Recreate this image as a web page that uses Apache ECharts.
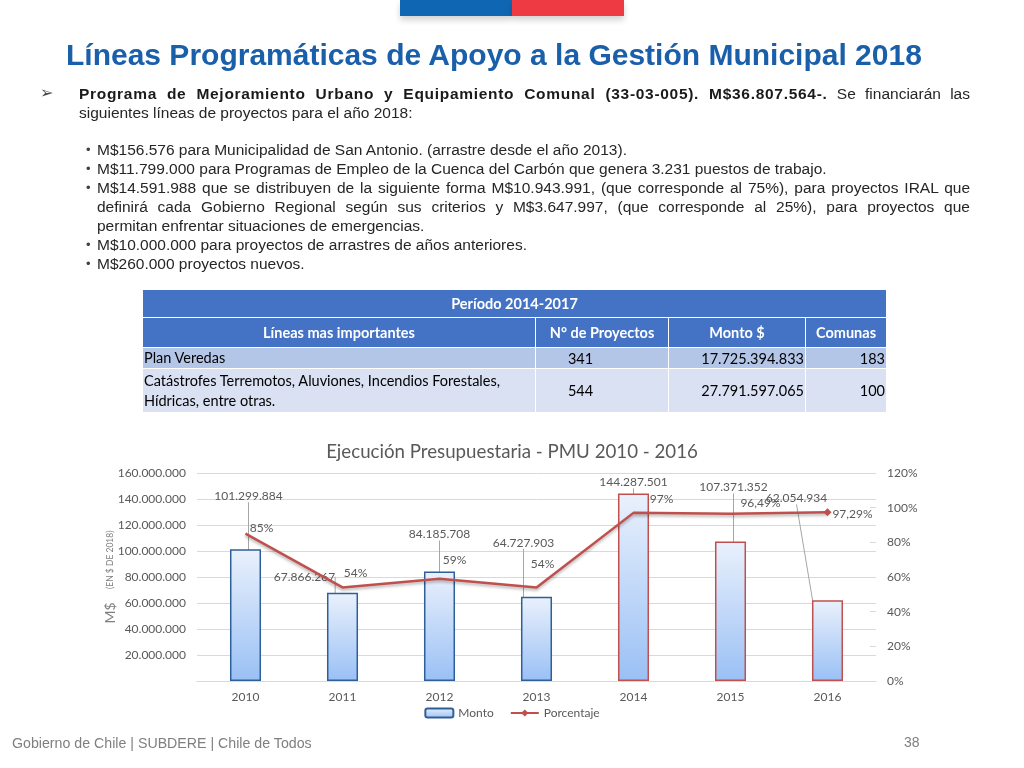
<!DOCTYPE html>
<html><head><meta charset="utf-8">
<script src="https://cdn.jsdelivr.net/npm/echarts@6/dist/echarts.min.js"></script>
<style>
html,body{margin:0;padding:0;width:1024px;height:768px;background:#fff;overflow:hidden;}
#chart{position:absolute;left:0;top:0;width:1024px;height:768px;}
.flag{position:absolute;top:0;height:16px;box-shadow:0 4px 6px rgba(0,0,0,0.18);}
#title{position:absolute;left:66px;top:36px;font-family:"Liberation Sans",Arial,sans-serif;font-weight:bold;font-size:30px;line-height:38px;color:#1A5FAA;white-space:nowrap;}
#arrow{position:absolute;left:40px;top:83px;font-family:"DejaVu Sans";font-size:16px;color:#444;}
.txt{position:absolute;font-family:"Liberation Sans",Arial,sans-serif;font-size:15.5px;line-height:19px;color:#262626;}
.txt div{white-space:nowrap;}
.txt div.j{text-align:justify;text-align-last:justify;white-space:normal;}
#para{left:79px;top:84px;width:891px;}
#para b{color:#1a1a1a;letter-spacing:0.7px;}
#list{left:97px;top:140px;width:873px;}
.li{position:relative;}
.li:before{content:"•";position:absolute;left:-11px;top:0;font-size:13px;color:#404040;}
#tbl{position:absolute;left:142px;top:289px;width:744px;table-layout:fixed;border-collapse:collapse;font-family:Lato,"Open Sans",sans-serif;font-size:14.5px;color:#000;}
#tbl td,#tbl th{border:1px solid #fff;padding:0 1px;overflow:visible;white-space:nowrap;}
#tbl th{background:#4472C4;color:#fff;font-weight:bold;}
#footer{position:absolute;left:12px;top:735px;font-family:"Liberation Sans",Arial,sans-serif;font-size:14.2px;color:#7f7f7f;}
#page{position:absolute;left:904px;top:734px;font-family:"Liberation Sans",Arial,sans-serif;font-size:14px;color:#7f7f7f;}
</style></head><body>
<div id="chart"></div>
<div class="flag" style="left:400px;width:112px;background:#0F67B3;"></div>
<div class="flag" style="left:512px;width:112px;background:#EE3B43;"></div>
<div id="title"></div>
<div id="arrow">➢</div>
<div id="para" class="txt"></div>
<div id="list" class="txt"></div>
<table id="tbl"></table>
<div id="footer"></div>
<div id="page"></div>
<script>
// ---- data ----
const years = ['2010','2011','2012','2013','2014','2015','2016'];
const montos = [101299884, 67866267, 84185708, 64727903, 144287501, 107371352, 62054934];
const porcentajes = [85, 54, 59, 54, 97, 96.49, 97.29];
const leftTickValues = [0, 20000000, 40000000, 60000000, 80000000, 100000000, 120000000, 140000000, 160000000];
const rightTickValues = [0, 20, 40, 60, 80, 100, 120];

const slideTitle = 'Líneas Programáticas de Apoyo a la Gestión Municipal 2018';
// paragraph lines as laid out on the slide
const paraLines = [
  '<b>Programa de Mejoramiento Urbano y Equipamiento Comunal (33-03-005). M$36.807.564-.</b> Se financiarán las',
  'siguientes líneas de proyectos para el año 2018:'
];
const bullets = [
  ['M$156.576 para Municipalidad de San Antonio. (arrastre desde el año 2013).'],
  ['M$11.799.000 para Programas de Empleo de la Cuenca del Carbón que genera 3.231 puestos de trabajo.'],
  ['M$14.591.988 que se distribuyen de la siguiente forma M$10.943.991, (que corresponde al 75%), para proyectos IRAL que',
   'definirá cada Gobierno Regional según sus criterios y M$3.647.997, (que corresponde al 25%), para proyectos que',
   'permitan enfrentar situaciones de emergencias.'],
  ['M$10.000.000 para proyectos de arrastres de años anteriores.'],
  ['M$260.000 proyectos nuevos.']
];
const tablePeriod = 'Período 2014-2017';
const tableHeaders = ['Líneas mas importantes', 'N° de Proyectos', 'Monto $', 'Comunas'];
const tableLines = ['Plan Veredas', 'Catástrofes Terremotos, Aluviones, Incendios Forestales,<br>Hídricas, entre otras.'];
const tableProyectos = ['341', '544'];
const tableMontos = ['17.725.394.833', '27.791.597.065'];
const tableComunas = ['183', '100'];
const footerText = 'Gobierno de Chile | SUBDERE | Chile de Todos';
const pageNumber = '38';
const chartTitle = 'Ejecución Presupuestaria - PMU 2010 - 2016';

// ---- slide text ----
const linesHtml = ls => ls.map((l, i) => '<div' + (i < ls.length - 1 ? ' class="j"' : '') + '>' + l + '</div>').join('');
document.getElementById('title').textContent = slideTitle;
document.getElementById('para').innerHTML = linesHtml(paraLines);
document.getElementById('list').innerHTML = bullets.map(b => '<div class="li">' + linesHtml(b) + '</div>').join('');
const rowBg = ['#B4C6E7', '#D9E1F2'];
const rowH = [20, 44];
let html = '<colgroup><col style="width:393px"><col style="width:133px"><col style="width:137px"><col style="width:81px"></colgroup>';
html += '<tr style="height:28px"><th colspan="4">' + tablePeriod + '</th></tr>';
html += '<tr style="height:30px"><th>' + tableHeaders[0] + '</th><th>' + tableHeaders[1] +
  '</th><th>' + tableHeaders[2] + '</th><th>' + tableHeaders[3] + '</th></tr>';
for (let i = 0; i < tableLines.length; i++) {
  html += '<tr style="height:' + rowH[i] + 'px;background:' + rowBg[i] + '">' +
    '<td style="text-align:left;line-height:20px">' + tableLines[i] + '</td>' +
    '<td style="text-align:center;padding-right:44px">' + tableProyectos[i] + '</td>' +
    '<td style="text-align:right">' + tableMontos[i] + '</td>' +
    '<td style="text-align:right">' + tableComunas[i] + '</td></tr>';
}
document.getElementById('tbl').innerHTML = html;
document.getElementById('footer').textContent = footerText;
document.getElementById('page').textContent = pageNumber;

// ---- chart ----
const fmtNum = v => String(v).replace(/\B(?=(\d{3})+(?!\d))/g, '.');
const fmtPct = v => (Number.isInteger(v) ? String(v) : v.toFixed(2).replace('.', ',')) + '%';
const blueBorder = '#2F5F99';
const redBorder = '#C0504D';
const borderColors = [blueBorder, blueBorder, blueBorder, blueBorder, redBorder, redBorder, redBorder];
// label placement shifts (styling)
const barLabelShift = [[3,-42],[-38,-5],[0,-26],[-13,-43],[0,0],[3,-43],[-31,-91]];
const pctLabelShift = [[16,5],[13,-3],[15,-8],[6,-12],[28,-3],[30,0],[25,17]];

const chart = echarts.init(document.getElementById('chart'), null, {renderer: 'canvas'});
const barFill = new echarts.graphic.LinearGradient(0, 0, 0, 1, [
  {offset: 0, color: '#EAF1FC'}, {offset: 1, color: '#9AC0F5'}
]);
const font = 'Lato, "Open Sans", sans-serif';
chart.setOption({
  animation: false,
  title: {
    text: chartTitle, left: 'center', top: 437,
    textStyle: {fontFamily: font, fontSize: 18.7, fontWeight: 'normal', color: '#595959'}
  },
  legend: {
    top: 702, left: 'center', itemWidth: 28, itemHeight: 9, itemGap: 16,
    textStyle: {fontFamily: font, fontSize: 12, color: '#595959'},
    data: ['Monto', 'Porcentaje']
  },
  grid: {left: 197, right: 148, top: 473, bottom: 87, outerBoundsMode: 'none'},
  xAxis: {
    type: 'category', data: years,
    axisLine: {lineStyle: {color: '#D9D9D9'}}, axisTick: {show: false},
    axisLabel: {color: '#595959', fontFamily: font, fontSize: 12, margin: 10}
  },
  yAxis: [{
    type: 'value', min: leftTickValues[0], max: leftTickValues[leftTickValues.length - 1], interval: leftTickValues[1] - leftTickValues[0],
    axisLine: {show: false}, axisTick: {show: false},
    axisLabel: {color: '#595959', fontFamily: font, fontSize: 12, margin: 11,
      formatter: v => v === 0 ? '' : fmtNum(v)},
    splitLine: {lineStyle: {color: '#D9D9D9', width: 1}},
    name: '{a|M$}    {b|(EN $ DE 2018)}', nameLocation: 'middle', nameGap: 80, nameRotate: 90, nameMoveOverlap: false,
    nameTextStyle: {color: '#808080', rich: {
      a: {fontSize: 14, fontFamily: font, color: '#808080'},
      b: {fontSize: 8.5, fontFamily: font, color: '#808080'}
    }}
  }, {
    type: 'value', position: 'right', min: rightTickValues[0], max: rightTickValues[rightTickValues.length - 1], interval: rightTickValues[1] - rightTickValues[0],
    axisLine: {show: false}, axisTick: {show: true, inside: true, length: 6, lineStyle: {color: '#D9D9D9'}},
    axisLabel: {color: '#595959', fontFamily: font, fontSize: 12, margin: 11, formatter: v => v + '%'},
    splitLine: {show: false}
  }],
  series: [{
    name: 'Monto', type: 'bar', barWidth: '32%', yAxisIndex: 0,
    itemStyle: {color: barFill, borderColor: blueBorder, borderWidth: 1.5},
    data: montos.map((v, i) => ({value: v, itemStyle: {borderColor: borderColors[i]}})),
    label: {show: true, position: 'top', distance: 5, color: '#595959', fontFamily: font, fontSize: 12,
      formatter: p => fmtNum(p.value)},
    labelLine: {show: true, lineStyle: {color: '#A6A6A6', width: 1}},
    labelLayout: p => ({dx: barLabelShift[p.dataIndex][0], dy: barLabelShift[p.dataIndex][1]}),
    z: 2
  }, {
    name: 'Porcentaje', type: 'line', yAxisIndex: 1,
    symbol: 'diamond', symbolSize: 8,
    itemStyle: {color: '#C0504D'},
    lineStyle: {color: '#C0504D', width: 2.5, shadowColor: 'rgba(0,0,0,0.3)', shadowBlur: 3, shadowOffsetY: 2},
    data: porcentajes.map((v, i) => ({value: v, symbolSize: i === porcentajes.length - 1 ? 8 : 0})),
    label: {show: true, position: 'top', distance: 5, color: '#595959', fontFamily: font, fontSize: 12,
      formatter: p => fmtPct(p.value)},
    labelLayout: p => ({dx: pctLabelShift[p.dataIndex][0], dy: pctLabelShift[p.dataIndex][1]}),
    z: 3
  }]
});
</script>
</body></html>
